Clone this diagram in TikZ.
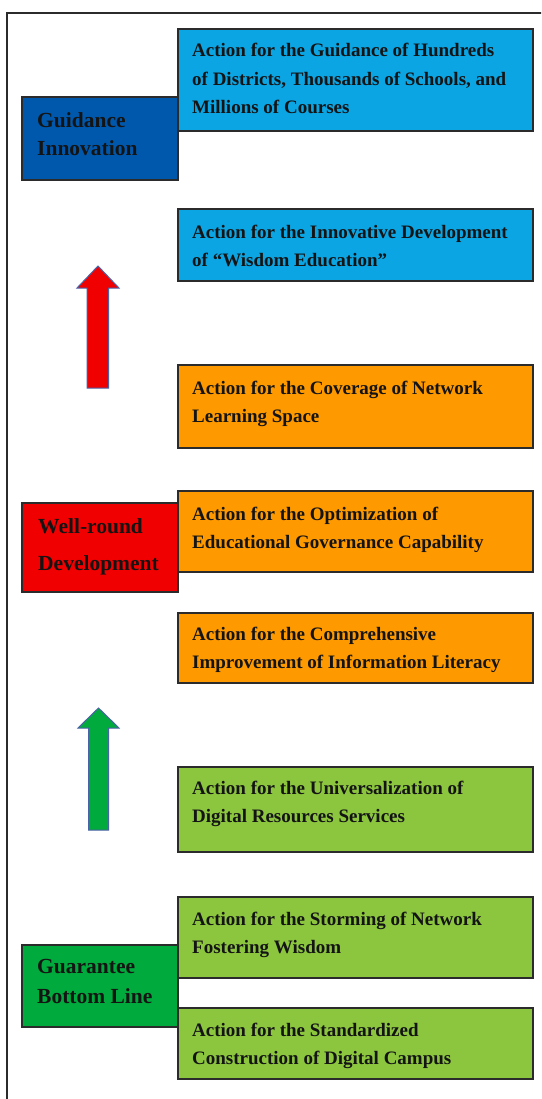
\documentclass[tikz,border=0pt]{standalone}
\usepackage{fontspec}
\setmainfont{Liberation Serif}
\usetikzlibrary{calc}
\definecolor{lblue}{HTML}{0BA5E4}
\definecolor{dblue}{HTML}{0058AD}
\definecolor{orng}{HTML}{FF9900}
\definecolor{rred}{HTML}{F00000}
\definecolor{dgreen}{HTML}{00AA3C}
\definecolor{lgreen}{HTML}{8CC63F}
\definecolor{edgecol}{HTML}{2B2B2B}
\definecolor{txt}{HTML}{141414}
\definecolor{arrowedge}{HTML}{4A62A8}
\begin{document}
\begin{tikzpicture}[x=1pt,y=-1pt,
  box/.style={draw=edgecol, line width=1.3pt, anchor=north west, inner sep=0pt, outer sep=0pt},
  actbox/.style={box, minimum width=355pt},
  catbox/.style={box, minimum width=156pt},
  acttext/.style={inner sep=0pt, anchor=base west, text=txt, font=\fontsize{19}{28.5}\selectfont\bfseries},
  cattext/.style={inner sep=0pt, anchor=base west, text=txt, font=\fontsize{21.5}{28}\selectfont\bfseries},
  bigarrow/.style={draw=arrowedge, line width=1pt, line join=miter},
]
\useasboundingbox (0,0) rectangle (541,1099);
\clip (0,0) rectangle (541,1099);
\fill[white] (0,0) rectangle (541,1099);

% frame
\draw[edgecol, line width=1.5pt] (7,1120) -- (7,13) -- (560,13);

% category boxes
\node[catbox, fill=dblue, minimum height=83pt] (gi) at (22,97) {};
\node[catbox, fill=rred, minimum height=89pt] (wd) at (22,503) {};
\node[catbox, fill=dgreen, minimum height=82pt] (gb) at (22,945) {};

% action boxes
\node[actbox, fill=lblue, minimum height=102pt] (a1) at (178,29) {};
\node[actbox, fill=lblue, minimum height=72pt] (a2) at (178,209) {};
\node[actbox, fill=orng, minimum height=83pt] (a3) at (178,365) {};
\node[actbox, fill=orng, minimum height=81pt] (a4) at (178,491) {};
\node[actbox, fill=orng, minimum height=70pt] (a5) at (178,613) {};
\node[actbox, fill=lgreen, minimum height=85pt] (a6) at (178,767) {};
\node[actbox, fill=lgreen, minimum height=81pt] (a7) at (178,897) {};
\node[actbox, fill=lgreen, minimum height=71pt] (a8) at (178,1008) {};

% action texts
\node[acttext] (a1t) at ($(a1.north west)+(14,28)$) {\parbox[t]{345pt}{\raggedright Action for the Guidance of Hundreds\\ of Districts, Thousands of Schools, and\\ Millions of Courses}};
\node[acttext] (a2t) at ($(a2.north west)+(14,29)$) {\parbox[t]{345pt}{\raggedright Action for the Innovative Development\\ of “Wisdom Education”}};
\node[acttext] (a3t) at ($(a3.north west)+(14,29)$) {\parbox[t]{345pt}{\raggedright Action for the Coverage of Network\\ Learning Space}};
\node[acttext] (a4t) at ($(a4.north west)+(14,29)$) {\parbox[t]{345pt}{\raggedright Action for the Optimization of\\ Educational Governance Capability}};
\node[acttext] (a5t) at ($(a5.north west)+(14,27)$) {\parbox[t]{345pt}{\raggedright Action for the Comprehensive\\ Improvement of Information Literacy}};
\node[acttext] (a6t) at ($(a6.north west)+(14,27)$) {\parbox[t]{345pt}{\raggedright Action for the Universalization of\\ Digital Resources Services}};
\node[acttext] (a7t) at ($(a7.north west)+(14,28)$) {\parbox[t]{345pt}{\raggedright Action for the Storming of Network\\ Fostering Wisdom}};
\node[acttext] (a8t) at ($(a8.north west)+(14,28)$) {\parbox[t]{345pt}{\raggedright Action for the Standardized\\ Construction of Digital Campus}};

% category texts
\node[cattext] (git) at ($(gi.north west)+(15,31)$) {\parbox[t]{150pt}{\raggedright Guidance\\ Innovation}};
\node[cattext] (wdt) at ($(wd.north west)+(16,30)$) {\parbox[t]{150pt}{\raggedright Well-round\\[9pt] Development}};
\node[cattext] (gbt) at ($(gb.north west)+(15,28)$) {\parbox[t]{150pt}{\raggedright Guarantee\\[2pt] Bottom Line}};

% arrows
\draw[bigarrow, fill=rred] (98,266) -- (119,288) -- (108.5,288) -- (108.5,388) -- (87,388) -- (87,288) -- (77,288) -- cycle;
\draw[bigarrow, fill=dgreen] (98.5,708) -- (119,728) -- (108.5,728) -- (108.5,830) -- (88.5,830) -- (88.5,728) -- (78,728) -- cycle;
\end{tikzpicture}
\end{document}
